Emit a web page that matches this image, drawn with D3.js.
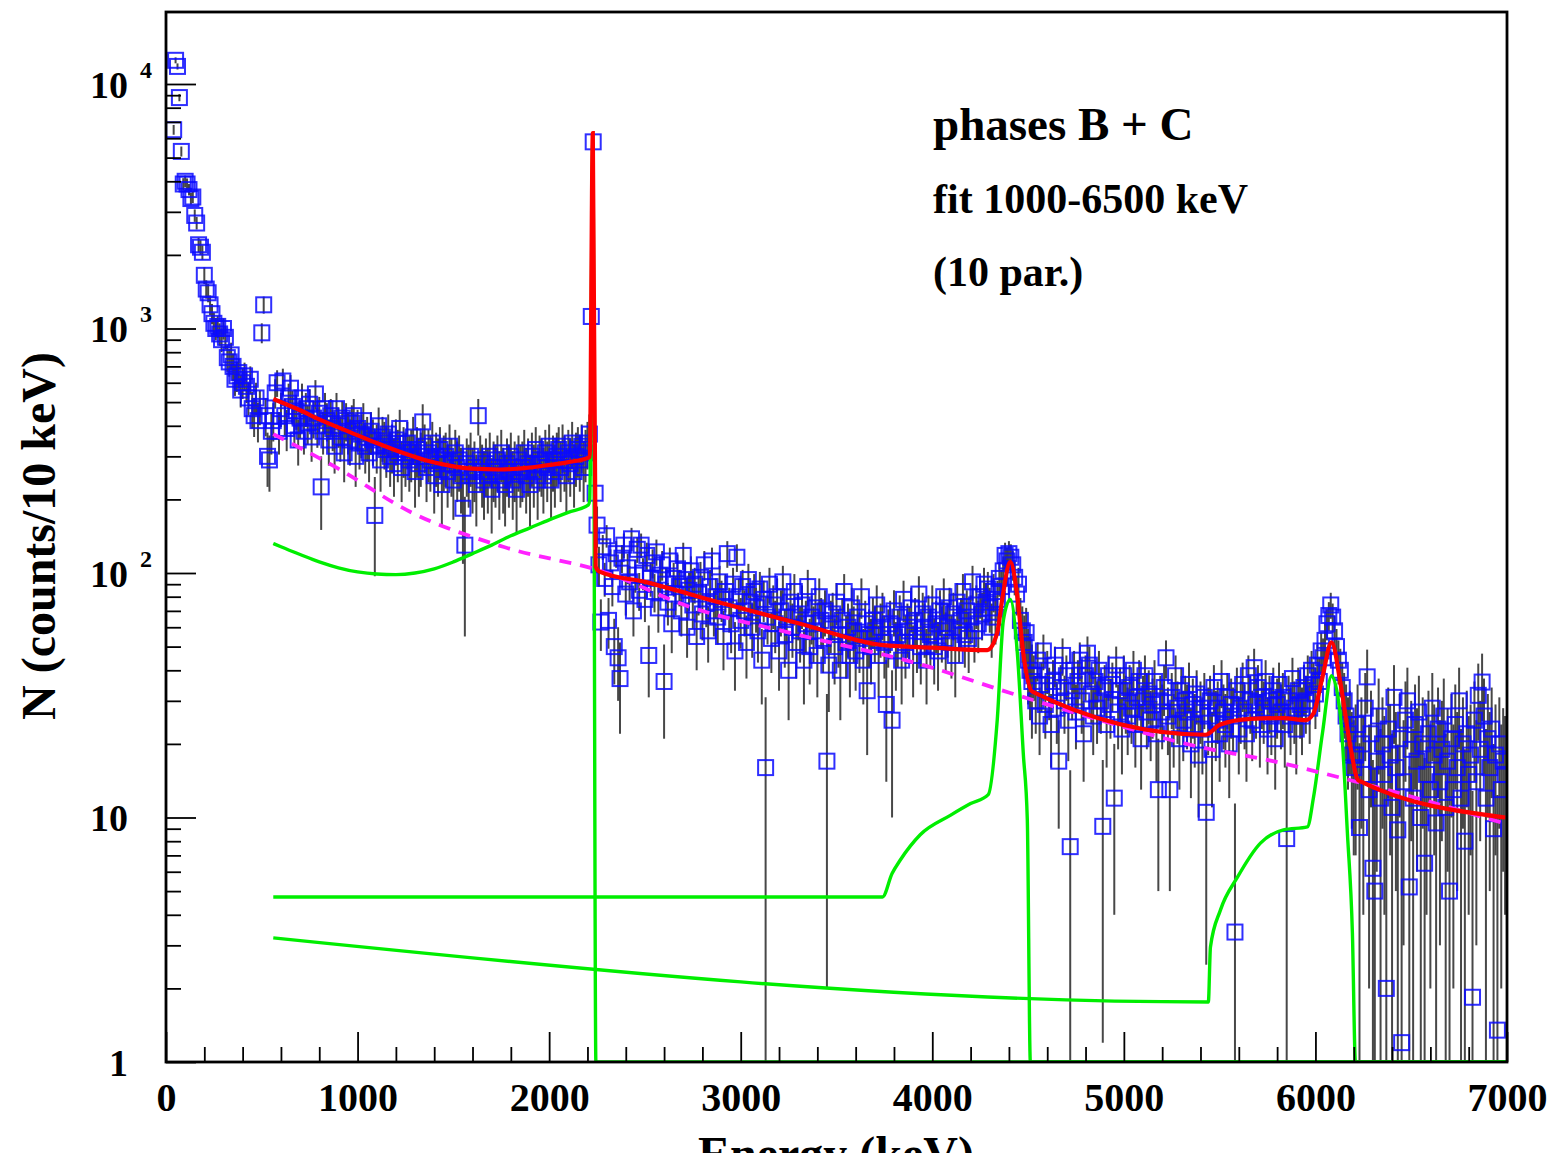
<!DOCTYPE html>
<html>
<head>
<meta charset="utf-8">
<script src="https://cdn.jsdelivr.net/npm/d3@7"></script>
<style>
  body { margin: 0; background: #fff; }
  text { font-family: "Liberation Serif", "Times New Roman", serif; font-weight: bold; fill: #000; }
</style>
</head>
<body>
<div id="chart"></div>
<script>
var svgWidth = 1552;
var svgHeight = 1153;

var margin = {top: 12, right: 45, bottom: 91, left: 166};
var width = svgWidth - margin.left - margin.right;
var height = svgHeight - margin.top - margin.bottom;

// counts per 10 keV bin
// 40 - 550 keV
var countsLow = [6500, 12500, 11800, 8800, 5300, 3900, 4000, 3900, 3700, 3400,
  3450, 2900, 2700, 2200, 2150, 2050, 1650, 1450, 1400, 1250,
  1150, 1050, 1000, 1020, 950, 900, 1000, 920, 760, 730,
  780, 700, 620, 640, 660, 560, 600, 640, 580, 520,
  620, 470, 440, 520, 420, 480, 960, 1250, 440, 300,
  290, 380];
var errLow = [300, 350, 340, 300, 250, 220, 220, 210, 200, 190,
  190, 170, 160, 150, 150, 140, 130, 125, 120, 115,
  110, 110, 105, 105, 100, 100, 100, 100, 95, 95,
  95, 90, 90, 90, 90, 85, 85, 85, 85, 80,
  80, 80, 80, 80, 78, 78, 90, 100, 78, 75,
  75, 75];

// 560 - 2200 keV
var countsA = [420, 545, 600, 380, 470, 610, 440, 390, 520, 570,
  480, 400, 460, 350, 430, 520, 380, 470, 410, 490,
  360, 430, 540, 400, 450, 225, 380, 470, 420, 350,
  440, 390, 330, 470, 400, 360, 430, 310, 420, 380,
  350, 410, 440, 300, 390, 340, 370, 420, 330, 360,
  310, 380, 350, 172, 330, 400, 290, 360, 340, 320,
  370, 300, 330, 280, 350, 310, 390, 270, 320, 300,
  340, 290, 310, 360, 260, 320, 280, 300, 415, 330,
  270, 310, 290, 340, 250, 300, 280, 320, 230, 290,
  300, 260, 330, 280, 240, 310, 270, 290, 250, 184,
  130, 280, 260, 300, 250, 270, 230, 440, 290, 260,
  240, 280, 250, 300, 220, 270, 260, 290, 240, 310,
  250, 230, 280, 260, 300, 240, 270, 220, 290, 260,
  270, 310, 250, 280, 230, 300, 260, 320, 240, 290,
  280, 250, 310, 270, 330, 240, 290, 260, 300, 320,
  270, 330, 290, 250, 310, 280, 340, 260, 300, 320,
  290, 330, 270, 310, 340];
var errA = 75;

// 2210 - 2270 keV (2.2 MeV line)
var countsSpike = [370, 1120, 5800, 212, 157, 108, 63];
var errSpike = [75, 90, 150, 40, 30, 20, 15];

// 2280 - 4290 keV
var countsB = [128, 95, 142, 64, 110, 88, 50, 120, 45, 37,
  115, 130, 82, 105, 92, 138, 70, 98, 125, 85,
  130, 100, 78, 118, 46, 95, 110, 84, 122, 72,
  98, 108, 36, 90, 76, 112, 62, 95, 82, 104,
  88, 70, 118, 94, 60, 85, 102, 74, 90, 55,
  82, 96, 68, 108, 75, 58, 88, 112, 70, 80,
  66, 92, 78, 55, 84, 120, 72, 62, 90, 48,
  116, 80, 64, 88, 70, 52, 94, 76, 60, 84,
  72, 58, 86, 44, 78, 16, 66, 90, 54, 74,
  62, 80, 48, 70, 92, 56, 66, 40, 76, 60,
  84, 52, 68, 58, 74, 44, 62, 88, 50, 66,
  58, 72, 46, 80, 64, 54, 70, 17, 42, 62,
  68, 50, 76, 56, 40, 64, 84, 52, 60, 46,
  72, 58, 48, 66, 54, 80, 44, 62, 33, 56,
  50, 64, 58, 74, 46, 60, 68, 52, 29, 56,
  62, 25, 70, 48, 56, 66, 44, 78, 52, 60,
  58, 72, 46, 64, 54, 82, 50, 68, 60, 44,
  66, 56, 74, 50, 62, 48, 70, 58, 80, 54,
  60, 72, 52, 68, 46, 76, 58, 64, 84, 56,
  70, 54, 66, 92, 58, 74, 62, 80, 68, 90,
  76, 86];
var errB = 15;

// 4300 - 4520 keV (4.4 MeV line)
var countsPeak1 = [72, 60, 84, 66, 78, 95, 88, 102, 118, 112,
  120, 116, 108, 96, 82, 90, 64, 58, 52, 57,
  44, 40, 36];
var errPeak1 = 15;

// 4530 - 5990 keV
var countsC = [38, 30, 44, 26, 35, 48, 29, 40, 33, 24,
  36, 42, 28, 17, 34, 46, 30, 38, 25, 7.6,
  33, 40, 27, 36, 44, 30, 22, 38, 47, 42,
  32, 26, 36, 28, 40, 30, 9.2, 34, 24, 38,
  29, 35, 12, 42, 27, 33, 23, 38, 30, 26,
  34, 28, 40, 24, 31, 36, 21, 30, 38, 27,
  32, 25, 29, 36, 22, 13, 30, 27, 34, 45,
  26, 13, 31, 24, 38, 28, 21, 33, 25, 30,
  27, 35, 20, 29, 24, 32, 18, 28, 23, 31,
  10.5, 26, 30, 19, 34, 25, 28, 22, 36, 27,
  24, 31, 20, 29, 26, 3.4, 33, 23, 28, 35,
  27, 22, 38, 30, 25, 41, 29, 34, 24, 31,
  28, 36, 23, 30, 26, 33, 21, 29, 35, 27,
  31, 24, 8.2, 30, 26, 37, 28, 23, 33, 29,
  26, 34, 30, 38, 28, 40, 35];
var errC = 8;

// 6000 - 6200 keV (6.1 MeV line)
var countsPeak2 = [32, 42, 36, 48, 45, 53, 62, 67, 74, 66,
  58, 50, 44, 40, 34, 30, 26, 22, 24, 18, 16];
var errPeak2 = 9;

// 6210 - 6990 keV
var countsHigh = [18, 24, 9.1, 20, 15, 28, 37.6, 13, 22, 6.2,
  5.0, 17, 26, 12, 20, 15, 2.0, 23, 18, 11,
  31, 16, 8.9, 21, 1.2, 14, 25, 30, 5.2, 19,
  12, 24, 17, 27, 10, 20, 6.5, 15, 22, 13,
  28, 18, 9.5, 23, 14, 19, 26, 11, 17, 5.0,
  21, 13, 24, 16, 30, 12, 20, 8, 22, 15,
  18, 1.84, 25, 14, 31.6, 19, 35.8, 26, 12, 21,
  16, 23, 9, 18, 1.35, 20, 13, 17, 15];
var errHigh = 11;

// fit curves, [energy keV, counts]
var fitTotal = [[560, 515], [700, 463], [800, 425], [960, 377], [1100, 340], [1220, 313],
  [1350, 290], [1480, 275], [1600, 267], [1745, 265], [1900, 270], [2005, 277], [2100, 284],
  [2212, 298], [2228, 6300], [2243, 106], [2266, 101], [2500, 92], [2909, 75], [3311, 62],
  [3744, 50.7], [4000, 49.5], [4287, 48.4], [4339, 57], [4365, 78], [4407, 111], [4444, 80],
  [4475, 47], [4522, 32.7], [5425, 21.8], [5504, 24], [5661, 25.3], [5833, 25.5], [5948, 25],
  [5990, 26.7], [6037, 37.6], [6084, 52], [6131, 35.3], [6183, 19.4], [6224, 14.2], [6992, 10]];

var fitBackground = [[560, 370], [893, 269], [1274, 178], [1760, 128], [2303, 100], [2736, 72.6],
  [3258, 56.9], [3953, 42], [4407, 32.3], [4877, 25], [5399, 19.4], [5749, 17.2], [6183, 14.2],
  [7000, 9.4]];

var fit2200 = [[560, 132], [600, 128], [700, 119], [800, 111], [900, 105], [1000, 101], [1100, 99],
  [1200, 98.5], [1300, 100], [1400, 104], [1500, 111], [1600, 120], [1700, 130], [1800, 142],
  [1900, 153], [2000, 165], [2100, 177], [2205, 190], [2212, 200], [2228, 5800], [2244, 0.5],
  [7000, 0.5]];

var fit4400 = [[560, 4.73], [3740, 4.73], [3790, 5.9], [3833, 6.7], [3937, 8.5], [4094, 10.2],
  [4200, 11.4], [4292, 12.4], [4339, 25], [4371, 64], [4407, 78], [4444, 47], [4475, 18.3],
  [4496, 9.8], [4512, 1], [4530, 0.5], [7000, 0.5]];

var fit6100 = [[560, 3.22], [5441, 1.76], [5452, 2.95], [5504, 4.18], [5593, 5.7], [5713, 7.86],
  [5833, 8.9], [5958, 9.15], [5990, 12.1], [6037, 22.2], [6084, 38], [6131, 25.8], [6167, 8.6],
  [6193, 3.37], [6209, 1], [6230, 0.5], [7000, 0.5]];

var xMajor = [0, 1000, 2000, 3000, 4000, 5000, 6000, 7000];
var yMajor = [1, 10, 100, 1000, 10000];
var annotations = ["phases B + C", "fit 1000-6500 keV", "(10 par.)"];

function bins(start, counts, err) {
  return counts.map(function(c, i) {
    return {e: start + 10 * i, n: c, err: Array.isArray(err) ? err[i] : err};
  });
}

var data = [].concat(
  bins(40, countsLow, errLow),
  bins(560, countsA, errA),
  bins(2210, countsSpike, errSpike),
  bins(2280, countsB, errB),
  bins(4300, countsPeak1, errPeak1),
  bins(4530, countsC, errC),
  bins(6000, countsPeak2, errPeak2),
  bins(6210, countsHigh, errHigh)
);

var svg = d3.select("#chart")
  .append("svg")
  .attr("width", svgWidth)
  .attr("height", svgHeight);

svg.append("rect")
  .attr("width", "100%")
  .attr("height", "100%")
  .attr("fill", "#fff");

var chartGroup = svg.append("g")
  .attr("transform", `translate(${margin.left}, ${margin.top})`);

var xScale = d3.scaleLinear().domain([0, 7000]).range([0, width]);
var yScale = d3.scaleLog().domain([1, 19700]).range([height, 0]);
var yMin = 1, yMax = 19700;

chartGroup.append("clipPath")
  .attr("id", "plotClip")
  .append("rect")
  .attr("width", width)
  .attr("height", height);

var plot = chartGroup.append("g").attr("clip-path", "url(#plotClip)");

// error bars
plot.append("g")
  .selectAll("line")
  .data(data)
  .enter()
  .append("line")
  .attr("x1", d => xScale(d.e))
  .attr("x2", d => xScale(d.e))
  .attr("y1", d => yScale(Math.max(d.n - d.err, yMin)))
  .attr("y2", d => yScale(Math.min(d.n + d.err, yMax)))
  .attr("stroke", "#000")
  .attr("stroke-opacity", 0.72)
  .attr("stroke-width", 2);

// data squares
var sq = 15;
plot.append("g")
  .selectAll("rect")
  .data(data)
  .enter()
  .append("rect")
  .attr("x", d => xScale(d.e) - sq / 2)
  .attr("y", d => yScale(d.n) - sq / 2)
  .attr("width", sq)
  .attr("height", sq)
  .attr("fill", "none")
  .attr("stroke", "#0a0aff")
  .attr("stroke-opacity", 0.85)
  .attr("stroke-width", 2);

var line = d3.line()
  .x(d => xScale(d[0]))
  .y(d => yScale(Math.max(d[1], yMin)))
  .curve(d3.curveMonotoneX);

[fit2200, fit4400, fit6100].forEach(function(c) {
  plot.append("path")
    .attr("d", line(c))
    .attr("fill", "none")
    .attr("stroke", "#00ee00")
    .attr("stroke-width", 3.4);
});

plot.append("path")
  .attr("d", line(fitBackground))
  .attr("fill", "none")
  .attr("stroke", "#ff22ff")
  .attr("stroke-width", 3.8)
  .attr("stroke-dasharray", "12,9");

plot.append("path")
  .attr("d", line(fitTotal))
  .attr("fill", "none")
  .attr("stroke", "#ff0000")
  .attr("stroke-width", 4.2);

// axes
var xAxis = d3.axisBottom(xScale)
  .tickValues(xMajor)
  .tickSize(-30)
  .tickSizeOuter(0)
  .tickPadding(21)
  .tickFormat(d3.format("d"));
var xMinor = d3.axisBottom(xScale)
  .tickValues(d3.range(200, 7000, 200).filter(v => v % 1000 !== 0))
  .tickSize(-15)
  .tickSizeOuter(0)
  .tickFormat("");

var gx = chartGroup.append("g")
  .attr("transform", `translate(0, ${height})`)
  .call(xAxis);
chartGroup.append("g")
  .attr("transform", `translate(0, ${height})`)
  .call(xMinor);
gx.selectAll("text")
  .style("font-size", "40px")
  .style("font-family", "Liberation Serif, serif")
  .style("font-weight", "bold");

var minorY = [];
[1, 10, 100, 1000, 10000].forEach(function(dec) {
  for (var m = 2; m <= 9; m++) {
    if (m * dec < yMax) minorY.push(m * dec);
  }
});

var yAxis = d3.axisLeft(yScale)
  .tickValues(yMajor)
  .tickSize(-30)
  .tickSizeOuter(0)
  .tickFormat("");
var yMinorAxis = d3.axisLeft(yScale)
  .tickValues(minorY)
  .tickSize(-15)
  .tickSizeOuter(0)
  .tickFormat("");

chartGroup.append("g").call(yAxis);
chartGroup.append("g").call(yMinorAxis);

chartGroup.selectAll(".tick line").attr("stroke", "#000").attr("stroke-width", 1.8);
chartGroup.selectAll(".domain").attr("stroke", "none");

// frame
chartGroup.append("rect")
  .attr("width", width)
  .attr("height", height)
  .attr("fill", "none")
  .attr("stroke", "#000")
  .attr("stroke-width", 2.8);

// y tick labels, 10 with exponent
yMajor.forEach(function(v) {
  var exp = Math.round(Math.log10(v));
  var yy = yScale(v);
  chartGroup.append("text")
    .attr("x", -38)
    .attr("y", yy + 14)
    .attr("text-anchor", "end")
    .style("font-size", "38px")
    .text(exp === 0 ? "1" : "10");
  if (exp >= 2) {
    chartGroup.append("text")
      .attr("x", -26)
      .attr("y", yy - 6)
      .style("font-size", "24px")
      .text(exp);
  }
});

// axis titles
svg.append("text")
  .attr("transform", "translate(55, 536) rotate(-90)")
  .attr("text-anchor", "middle")
  .style("font-size", "48px")
  .text("N (counts/10 keV)");

svg.append("text")
  .attr("x", 836)
  .attr("y", 1170)
  .attr("text-anchor", "middle")
  .style("font-size", "48px")
  .text("Energy (keV)");

svg.append("g")
  .selectAll("text")
  .data(annotations)
  .enter()
  .append("text")
  .attr("x", 933)
  .attr("y", (d, i) => 140 + i * 73)
  .style("font-size", (d, i) => i === 0 ? "47px" : "42px")
  .text(d => d);
</script>
</body>
</html>
